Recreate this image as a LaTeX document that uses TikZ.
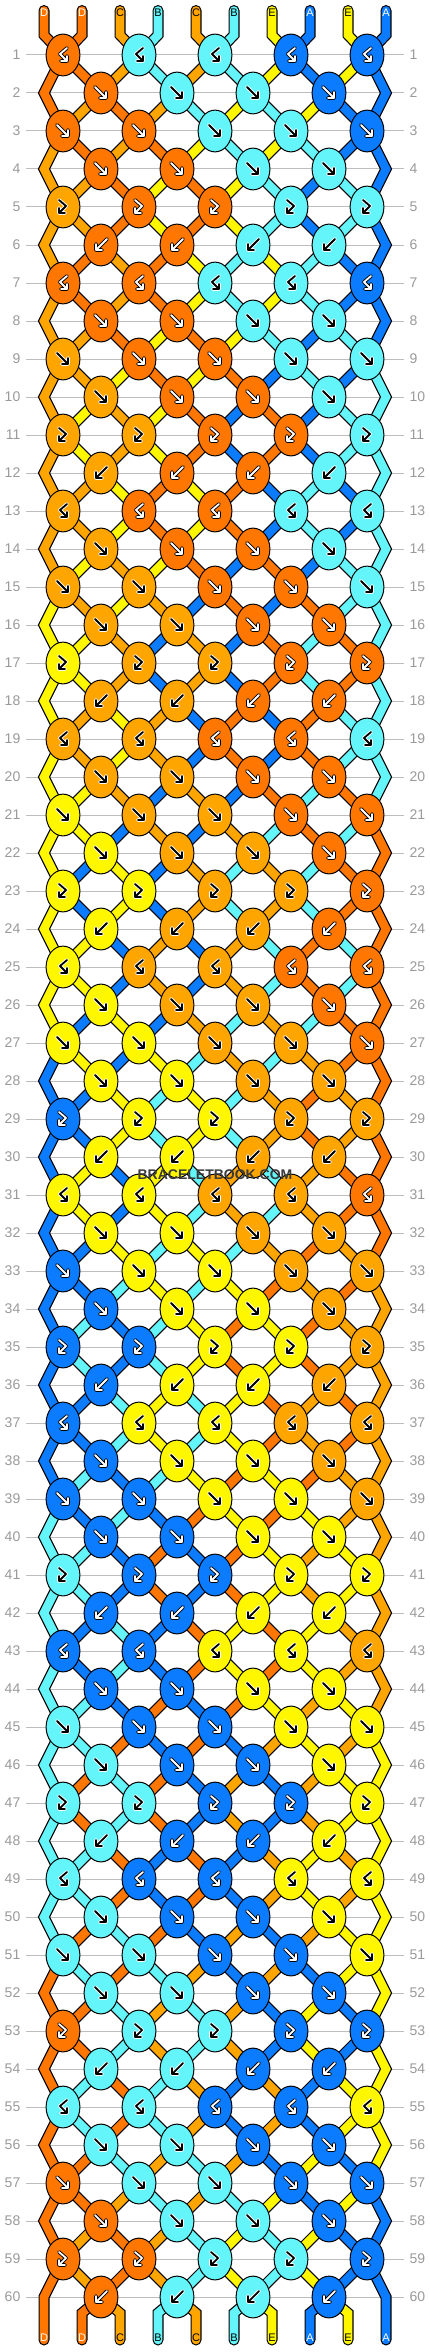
\documentclass[tikz,border=0pt]{standalone}
\usepackage{fontspec}
\setmainfont{Liberation Sans}
\usetikzlibrary{shapes.geometric}
\definecolor{colA}{HTML}{0B7BFF}
\definecolor{colB}{HTML}{63F5FA}
\definecolor{colC}{HTML}{FFA500}
\definecolor{colD}{HTML}{FF7700}
\definecolor{colE}{HTML}{FFF700}
\definecolor{gridgray}{HTML}{BDBDBD}
\definecolor{numgray}{HTML}{9A9A9A}
\definecolor{wmgray}{HTML}{3A3A3A}
\def\txtA{white}\def\txtD{white}\def\txtB{black}\def\txtC{black}\def\txtE{black}
\def\haloA{black}\def\haloD{black}\def\haloB{white}\def\haloC{white}\def\haloE{white}
\def\setS#1#2{\expandafter\xdef\csname s#1\endcsname{#2}}
\def\getS#1{\csname s#1\endcsname}
\def\setI#1#2{\expandafter\xdef\csname i#1\endcsname{#2}\setS{#1}{#2}}
\setI{1}{D}\setI{2}{D}\setI{3}{C}\setI{4}{B}\setI{5}{C}\setI{6}{B}\setI{7}{E}\setI{8}{A}\setI{9}{E}\setI{10}{A}
\pgfdeclarelayer{grid}\pgfdeclarelayer{sout}\pgfdeclarelayer{sfill}
\pgfsetlayers{grid,sout,sfill,main}
\def\passout{out}
\newcommand\strpath[2]{\ifx\strpass\passout \draw[strout] #2;\else \draw[strfill,draw=col#1] #2;\fi}
\newcommand\arrdraw[1]{\draw[arrhalo,draw=\ahl] #1;\draw[arrfg,draw=\afg] #1;}
\newcommand\arrF{\arrdraw{(-6,-6)--(5,5) (5,-1)--(5,5)--(-1,5)}}
\newcommand\arrB{\arrdraw{(6,-6)--(-5,5) (-5,-1)--(-5,5)--(1,5)}}
\newcommand\arrFB{\arrdraw{(-4,-7)--(3,-1)--(-4,6) (-4,1)--(-4,6)--(2,6)}}
\newcommand\arrBF{\arrdraw{(4,-7)--(-3,-1)--(4,6) (4,1)--(4,6)--(-2,6)}}
\newcommand\drawstrings{%
  \foreach \i in {1,...,10}{
    \pgfmathtruncatemacro\kk{2*floor((\i-1)/2)}
    \edef\ci{\csname i\i\endcsname}
    \strpath{\ci}{(t-\i) -- (tb-\i) -- (k-1-\kk.center)}
  }
  \foreach \r in {1,...,60}{
    \ifodd\r\relax \def\klist{0,2,4,6,8}\else \def\klist{1,3,5,7}\fi
    \pgfmathtruncatemacro\rn{\r+1}
    \pgfmathtruncatemacro\rnn{\r+2}
    \foreach \k in \klist{
      \pgfmathtruncatemacro\kl{\k-1}
      \pgfmathtruncatemacro\kr{\k+1}
      \pgfmathtruncatemacro\pL{\k+1}
      \pgfmathtruncatemacro\qR{\k+2}
      \edef\colL{\csname oL-\r-\k\endcsname}
      \edef\colR{\csname oR-\r-\k\endcsname}
      \ifnum\r=60\relax
        \strpath{\colL}{(k-\r-\k.center) -- (bb-\pL) -- (b-\pL)}
        \strpath{\colR}{(k-\r-\k.center) -- (bb-\qR) -- (b-\qR)}
      \else
        \ifnum\k=0\relax
          \ifnum\rn=60\relax
            \strpath{\colL}{(k-\r-\k.center) -- (eL-\rn) -- (b-1)}
          \else
            \strpath{\colL}{(k-\r-\k.center) -- (eL-\rn) -- (k-\rnn-0.center)}
          \fi
        \else
          \strpath{\colL}{(k-\r-\k.center) -- (k-\rn-\kl.center)}
        \fi
        \ifnum\k=8\relax
          \ifnum\rn=60\relax
            \strpath{\colR}{(k-\r-\k.center) -- (eR-\rn) -- (b-10)}
          \else
            \strpath{\colR}{(k-\r-\k.center) -- (eR-\rn) -- (k-\rnn-8.center)}
          \fi
        \else
          \strpath{\colR}{(k-\r-\k.center) -- (k-\rn-\kr.center)}
        \fi
      \fi
    }
  }}
\begin{document}
\begin{tikzpicture}[x=1pt,y=-1pt,
  knot/.style={ellipse,draw=black,line width=1pt,minimum width=33.8pt,minimum height=41.8pt,inner sep=0pt},
  strout/.style={line width=11pt,draw=black,line join=miter,line cap=round},
  strfill/.style={line width=8.6pt,line join=miter,line cap=round},
  gridline/.style={draw=gridgray,line width=1pt},
  rownum/.style={text=numgray,font=\fontsize{14}{14}\selectfont,inner sep=0pt},
  strlabel/.style={font=\fontsize{11}{11}\selectfont,inner sep=0pt},
  arrhalo/.style={line width=3.6pt,line cap=round,line join=round},
  arrfg/.style={line width=1.8pt,line cap=round,line join=round}]
\useasboundingbox (0,0) rectangle (430,2352);
\begin{pgfonlayer}{grid}
\fill[white] (0,0) rectangle (430,2352);
\foreach \r in {1,...,60}{
  \pgfmathsetmacro\yy{55+38*(\r-1)}
  \draw[gridline] (26,\yy) -- (404,\yy);
  \node[rownum,anchor=east] (nl-\r) at (20.5,\yy) {\r};
  \node[rownum,anchor=west] (nr-\r) at (409.5,\yy) {\r};
}
\end{pgfonlayer}
\foreach \i in {1,...,10}{
  \pgfmathsetmacro\xx{44+38*(\i-1)}
  \coordinate (t-\i) at (\xx,10.5);
  \coordinate (tb-\i) at (\xx,35);
  \coordinate (bb-\i) at (\xx,2313);
  \coordinate (b-\i) at (\xx,2340);
}
\foreach \r in {2,4,...,60}{
  \pgfmathsetmacro\yy{55+38*(\r-1)}
  \coordinate (eL-\r) at (44,\yy);
  \coordinate (eR-\r) at (386,\yy);
}
% knots (simulation)
\foreach \r in {1,...,60}{
  \pgfmathtruncatemacro\m{mod(\r-1,6)}
  \ifodd\r\relax \def\klist{0,2,4,6,8}\else \def\klist{1,3,5,7}\fi
  \foreach \k in \klist{
    \pgfmathtruncatemacro\pL{\k+1}
    \pgfmathtruncatemacro\qR{\k+2}
    \edef\Lc{\getS{\pL}}\edef\Rc{\getS{\qR}}
    \ifcase\m\relax \edef\kc{\Rc}\or \edef\kc{\Lc}\or \edef\kc{\Lc}\or \edef\kc{\Lc}\or \edef\kc{\Lc}\or \edef\kc{\Rc}\fi
    \ifcase\m\relax \or \setS{\pL}{\Rc}\setS{\qR}{\Lc}\or \setS{\pL}{\Rc}\setS{\qR}{\Lc}\or \setS{\pL}{\Rc}\setS{\qR}{\Lc}\or \or \setS{\pL}{\Rc}\setS{\qR}{\Lc}\fi
    \expandafter\xdef\csname oL-\r-\k\endcsname{\getS{\pL}}
    \expandafter\xdef\csname oR-\r-\k\endcsname{\getS{\qR}}
    \node[knot,fill=col\kc] (k-\r-\k) at ({63+38*\k},{55+38*(\r-1)}) {};
    \edef\afg{\csname txt\kc\endcsname}\edef\ahl{\csname halo\kc\endcsname}
    \begin{scope}[shift={(k-\r-\k.center)}]
      \ifcase\m\relax \arrBF\or \arrF\or \arrF\or \arrF\or \arrFB\or \arrB\fi
    \end{scope}
  }
}
% strings: outlines then fills
\begin{pgfonlayer}{sout}\def\strpass{out}\drawstrings\end{pgfonlayer}
\begin{pgfonlayer}{sfill}\def\strpass{fill}\drawstrings\end{pgfonlayer}
% string labels
\foreach \i in {1,...,10}{
  \pgfmathsetmacro\xx{44+38*(\i-1)}
  \edef\ci{\csname i\i\endcsname}
  \edef\tc{\csname txt\ci\endcsname}
  \node[strlabel,text=\tc] (tl-\i) at (\xx,13) {\ci};
  \edef\cf{\getS{\i}}
  \edef\tf{\csname txt\cf\endcsname}
  \node[strlabel,text=\tf] (bl-\i) at (\xx,2338) {\cf};
}
\node[font=\bfseries\fontsize{14}{14}\selectfont,text=wmgray,inner sep=0pt] (wm) at (215,1175) {BRACELETBOOK.COM};
\end{tikzpicture}
\end{document}
